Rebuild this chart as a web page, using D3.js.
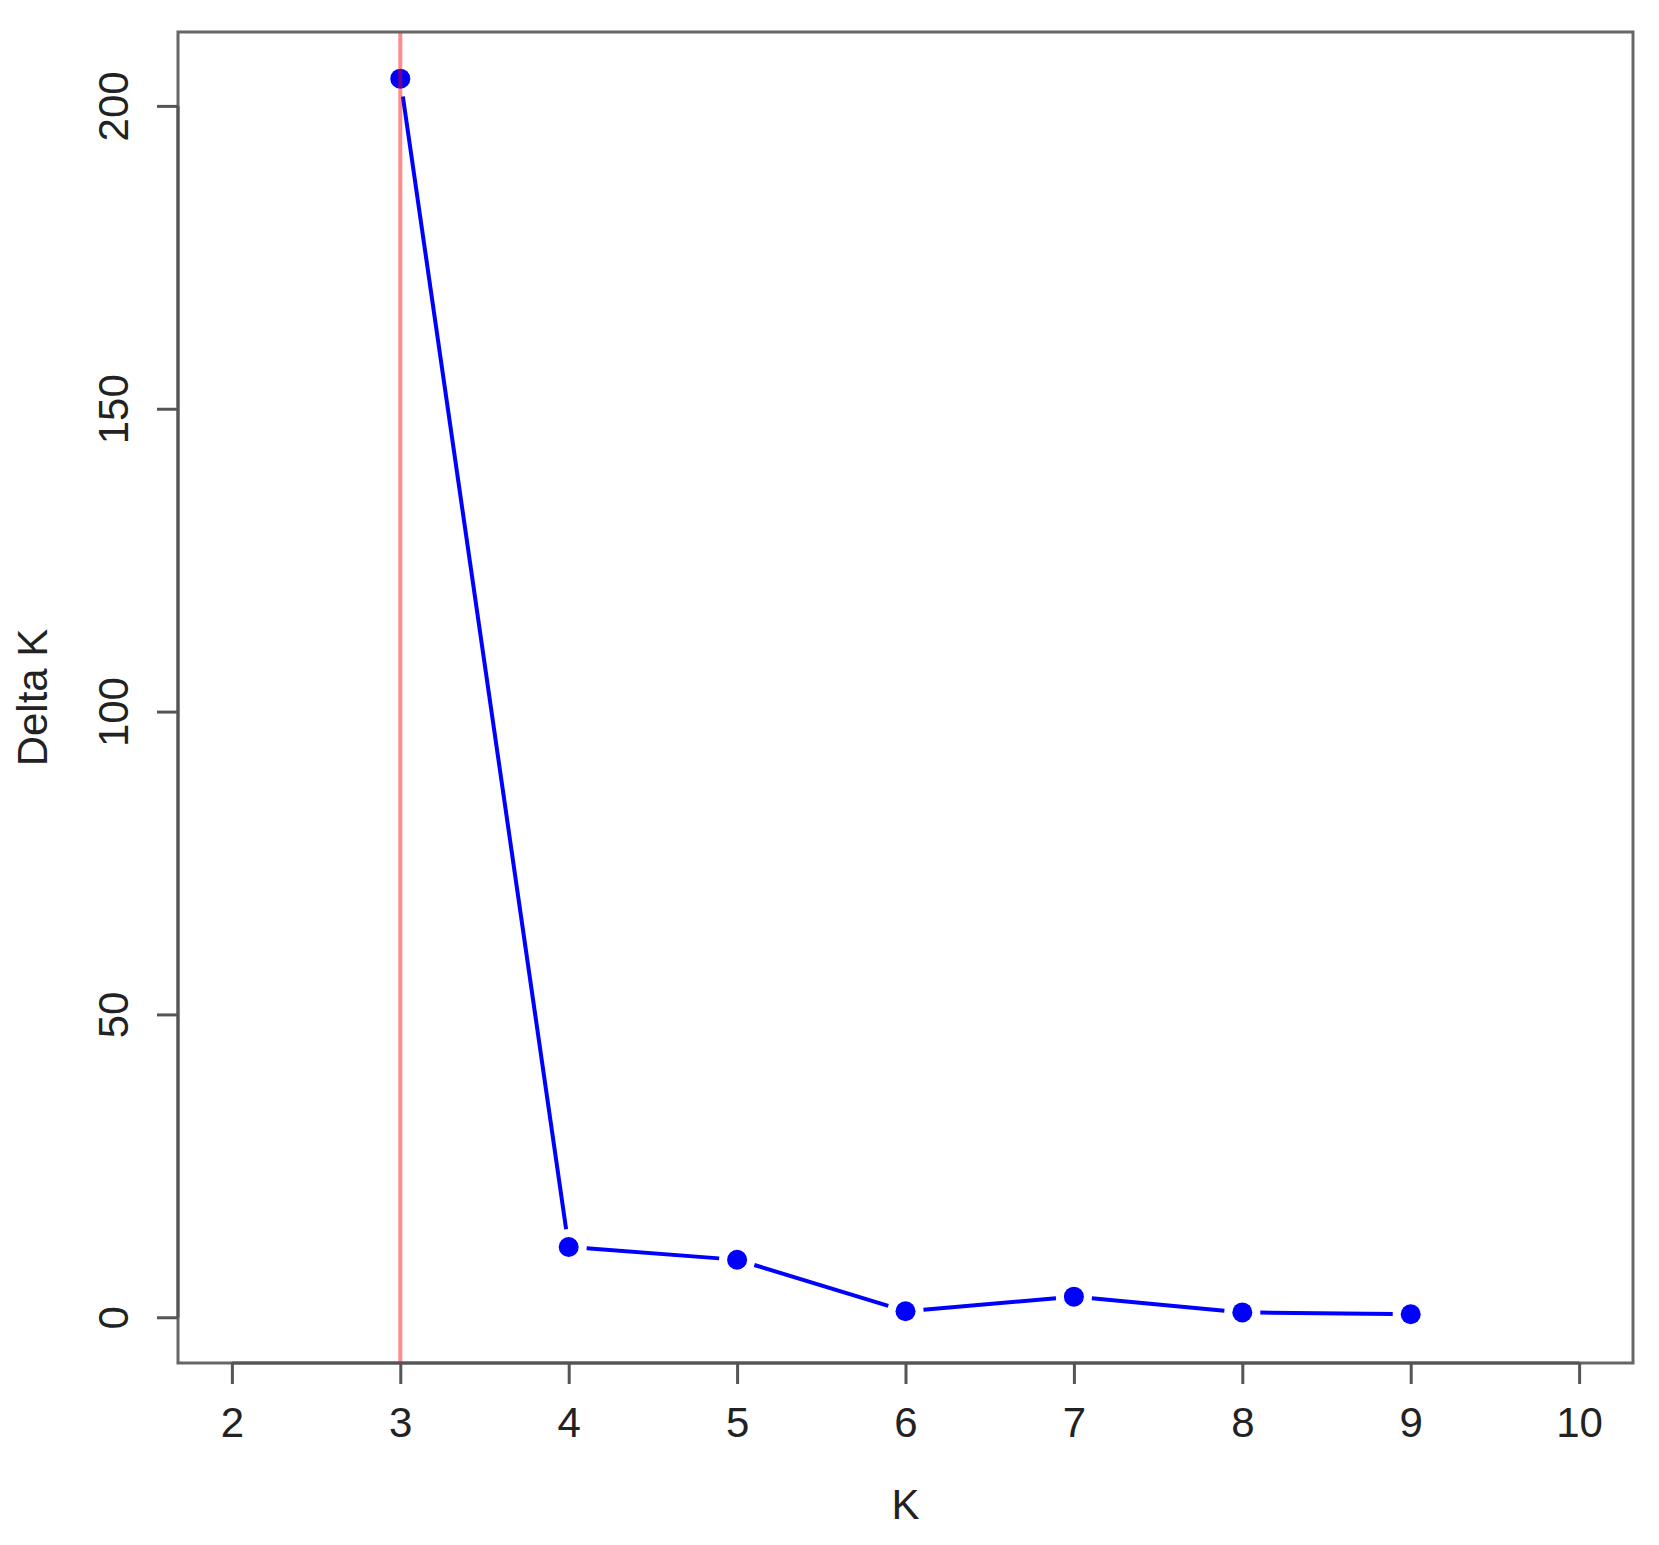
<!DOCTYPE html>
<head>
    <meta charset="utf-8">
    <title>Delta K</title>
    <style>
        body { margin: 0; background: #fff; }
        .tick-label, .axis-title {
            font-family: "Liberation Sans", Arial, Helvetica, sans-serif;
            font-size: 42px;
            fill: #222;
        }
    </style>
</head>
<body>
    <svg width="1659" height="1545"></svg>
    <script src="https://d3js.org/d3.v7.min.js"></script>
    <script>

    // data
    var kValues = [3, 4, 5, 6, 7, 8, 9];
    var deltaK = [204.5, 11.6, 9.5, 1.0, 3.4, 0.8, 0.5];
    var xTicks = [2, 3, 4, 5, 6, 7, 8, 9, 10];
    var yTicks = [0, 50, 100, 150, 200];
    var bestK = 3;

    var svg = d3.select("svg"),
        plotLeft = 178, plotRight = 1633, plotTop = 32, plotBottom = 1363;

    var x = d3.scaleLinear().domain([1.68, 10.32]).range([plotLeft, plotRight]);
    var y = d3.scaleLinear().domain([-7.55, 212.2]).range([plotBottom, plotTop]);

    var pts = kValues.map(function(k, i) { return { k: k, v: deltaK[i] }; });

    // line segments with gaps round the points (type = "b")
    var gap = 18;
    var segs = d3.pairs(pts).map(function(p) {
        var x0 = x(p[0].k), y0 = y(p[0].v), x1 = x(p[1].k), y1 = y(p[1].v);
        var dx = x1 - x0, dy = y1 - y0, len = Math.sqrt(dx * dx + dy * dy);
        var ux = dx / len, uy = dy / len;
        return [x0 + ux * gap, y0 + uy * gap, x1 - ux * gap, y1 - uy * gap];
    });

    svg.append("g").selectAll("line")
        .data(segs)
        .enter().append("line")
        .attr("x1", function(d) { return d[0]; })
        .attr("y1", function(d) { return d[1]; })
        .attr("x2", function(d) { return d[2]; })
        .attr("y2", function(d) { return d[3]; })
        .attr("stroke", "#0000ff")
        .attr("stroke-width", 4);

    svg.append("g").selectAll("circle")
        .data(pts)
        .enter().append("circle")
        .attr("cx", function(d) { return x(d.k); })
        .attr("cy", function(d) { return y(d.v); })
        .attr("r", 10)
        .attr("fill", "#0000ff");

    // vertical marker at best K
    svg.append("line")
        .attr("x1", x(bestK)).attr("x2", x(bestK))
        .attr("y1", plotTop).attr("y2", plotBottom)
        .attr("stroke", "#ff0000")
        .attr("stroke-opacity", 0.45)
        .attr("stroke-width", 4);

    // plot box
    svg.append("rect")
        .attr("x", plotLeft).attr("y", plotTop)
        .attr("width", plotRight - plotLeft).attr("height", plotBottom - plotTop)
        .attr("fill", "none")
        .attr("stroke", "#666")
        .attr("stroke-width", 3);

    // x axis
    var xAxis = svg.append("g")
        .attr("transform", "translate(0," + plotBottom + ")")
        .call(d3.axisBottom(x).tickValues(xTicks).tickSize(21).tickPadding(0).tickFormat(d3.format("d")));
    xAxis.select(".domain").attr("d", "M" + x(2) + ",0H" + x(10)).attr("stroke", "#555").attr("stroke-width", 3);
    xAxis.selectAll(".tick line").attr("stroke", "#555").attr("stroke-width", 3);
    xAxis.selectAll(".tick text")
        .attr("class", "tick-label")
        .attr("y", 74)
        .attr("dy", null);

    // y axis
    var yAxis = svg.append("g")
        .attr("transform", "translate(" + plotLeft + ",0)")
        .call(d3.axisLeft(y).tickValues(yTicks).tickSize(21).tickFormat(d3.format("d")));
    yAxis.select(".domain").attr("d", "M0," + y(0) + "V" + y(200)).attr("stroke", "#555").attr("stroke-width", 3);
    yAxis.selectAll(".tick line").attr("stroke", "#555").attr("stroke-width", 3);
    yAxis.selectAll(".tick text")
        .attr("class", "tick-label")
        .attr("x", null).attr("dy", null)
        .attr("text-anchor", "middle")
        .attr("transform", "translate(-50,0) rotate(-90)");

    svg.append("text")
        .attr("class", "axis-title")
        .attr("x", (plotLeft + plotRight) / 2)
        .attr("y", 1519)
        .attr("text-anchor", "middle")
        .text("K");

    svg.append("text")
        .attr("class", "axis-title")
        .attr("text-anchor", "middle")
        .attr("transform", "translate(47," + (plotTop + plotBottom) / 2 + ") rotate(-90)")
        .text("Delta K");

    </script>
</body>
</html>
